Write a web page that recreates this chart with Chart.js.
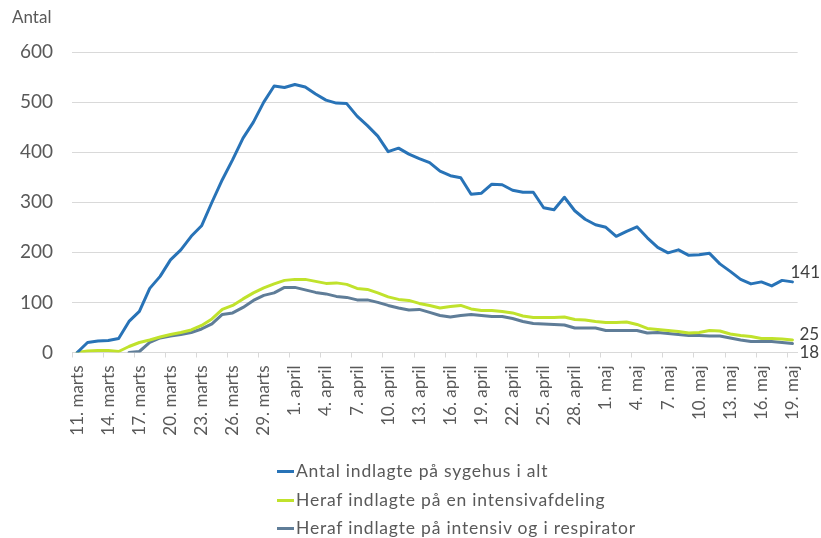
<!DOCTYPE html>
<html>
<head>
<meta charset="utf-8">
<script src="https://cdn.jsdelivr.net/npm/chart.js@4"></script>
<style>
  html, body { margin: 0; padding: 0; background: #fff; }
  #wrap { position: relative; width: 821px; height: 538px; overflow: hidden; }
  #c { position: absolute; left: 0; top: 0; }
  #ytitle { position: absolute; left: 12px; top: 6px; font: 17px Lato, sans-serif; color: #595959; }
  #legend { position: absolute; left: 277px; top: 459px; font: 17.5px Lato, sans-serif; letter-spacing: 0.8px; color: #595959; }
  .li { height: 28.5px; line-height: 24px; white-space: nowrap; }
  .mk { display: inline-block; width: 17px; height: 3px; vertical-align: middle; margin-right: 2px; position: relative; top: -1px; }
</style>
</head>
<body>
<div id="wrap">
  <canvas id="c" width="821" height="538"></canvas>
  <div id="ytitle">Antal</div>
  <div id="legend"></div>
</div>
<script>
const months = ["marts", "april", "maj"];
const monthStarts = [11, 1, 1];
const monthLengths = [21, 30, 19];

const categories = [];
for (let m = 0; m < months.length; m++) {
  for (let d = 0; d < monthLengths[m]; d++) {
    categories.push((monthStarts[m] + d) + ". " + months[m]);
  }
}

const seriesNames = [
  "Antal indlagte på sygehus i alt",
  "Heraf indlagte på en intensivafdeling",
  "Heraf indlagte på intensiv og i respirator"
];

const totalAdmitted = [
  0, 20, 23, 24, 28, 62, 82, 128, 152, 185,
  205, 232, 253, 300, 345, 385, 428, 460, 500, 532,
  529, 535, 530, 516, 504, 498, 497, 472, 453, 432,
  401, 408, 396, 387, 379, 362, 353, 349, 316, 318,
  336, 335, 324, 320, 320, 289, 285, 310, 283, 266,
  255, 250, 232, 242, 251, 229, 210, 199, 205, 194,
  195, 198, 177, 162, 146, 137, 141, 133, 144, 141
];

const intensiveCare = [
  0, 3, 4, 4, 2, 12, 20, 25, 31, 36,
  40, 45, 54, 67, 86, 94, 107, 119, 129, 137,
  144, 146, 146, 142, 138, 139, 136, 128, 126, 119,
  111, 106, 104, 98, 94, 89, 92, 94, 87, 84,
  84, 82, 79, 73, 70, 70, 70, 71, 66, 65,
  62, 60, 60, 61, 56, 48, 46, 44, 42, 39,
  40, 44, 43, 37, 34, 32, 28, 28, 27, 25
];

const respirator = [
  null, null, null, null, null, 0, 2, 20, 29, 33,
  36, 40, 47, 57, 76, 79, 90, 104, 114, 119,
  130, 130, 125, 120, 117, 112, 110, 105, 105, 100,
  94, 89, 85, 86, 80, 74, 71, 74, 76, 74,
  72, 72, 68, 62, 58, 57, 56, 55, 49, 49,
  49, 44, 44, 44, 44, 39, 40, 38, 36, 34,
  34, 33, 33, 29, 25, 22, 22, 22, 20, 18
];

const yTicks = [0, 100, 200, 300, 400, 500, 600];

const colors = ["#2873B7", "#C0E22C", "#5F7D98"];
const labelOffsets = [[-2, -9], [7, -5], [7, 9]];

const legendEl = document.getElementById("legend");
seriesNames.forEach((n, i) => {
  const d = document.createElement("div");
  d.className = "li";
  const mk = document.createElement("span");
  mk.className = "mk";
  mk.style.background = colors[i];
  d.appendChild(mk);
  d.appendChild(document.createTextNode(n));
  legendEl.appendChild(d);
});

const endLabels = {
  id: "endLabels",
  afterDatasetsDraw(chart) {
    const ctx = chart.ctx;
    ctx.save();
    ctx.font = "17px Lato, sans-serif";
    ctx.fillStyle = "#404040";
    ctx.textAlign = "left";
    ctx.textBaseline = "middle";
    chart.data.datasets.forEach((ds, i) => {
      const meta = chart.getDatasetMeta(i);
      const last = ds.data.length - 1;
      const pt = meta.data[last];
      if (!pt) return;
      ctx.fillText(String(ds.data[last]), pt.x + labelOffsets[i][0], pt.y + labelOffsets[i][1]);
    });
    ctx.restore();
  }
};

new Chart(document.getElementById("c"), {
  type: "line",
  data: {
    labels: categories,
    datasets: [
      { label: seriesNames[0], data: totalAdmitted, borderColor: colors[0], backgroundColor: colors[0] },
      { label: seriesNames[1], data: intensiveCare, borderColor: colors[1], backgroundColor: colors[1] },
      { label: seriesNames[2], data: respirator, borderColor: colors[2], backgroundColor: colors[2] }
    ]
  },
  options: {
    responsive: false,
    animation: false,
    devicePixelRatio: 1,
    layout: { padding: { top: 52, right: 21, left: 0, bottom: 0 } },
    elements: {
      line: { borderWidth: 3, tension: 0, borderCapStyle: "round", borderJoinStyle: "round" },
      point: { radius: 0, hoverRadius: 0 }
    },
    plugins: {
      legend: { display: false },
      tooltip: { enabled: false }
    },
    scales: {
      x: {
        type: "category",
        offset: true,
        grid: {
          offset: true,
          drawOnChartArea: false,
          drawTicks: true,
          tickLength: 5,
          tickColor: (c) => (c.index % 3 === 0 ? "#d9d9d9" : "rgba(0,0,0,0)")
        },
        border: { display: true, color: "#d9d9d9", width: 1 },
        ticks: {
          autoSkip: false,
          minRotation: 90,
          maxRotation: 90,
          padding: 8,
          color: "#595959",
          font: { family: "Lato", size: 17 },
          callback: function (v, i) { return i % 3 === 0 ? this.getLabelForValue(v) : ""; }
        },
        afterFit: (s) => { s.height = 538 - 352.5; }
      },
      y: {
        min: 0,
        max: 600,
        afterBuildTicks: (s) => { s.ticks = yTicks.map(v => ({ value: v })); },
        grid: { color: "#d9d9d9", lineWidth: 1, drawTicks: false },
        border: { display: false },
        ticks: {
          padding: 19,
          color: "#595959",
          font: { family: "Lato", size: 19 }
        },
        afterFit: (s) => { s.width = 72; }
      }
    }
  },
  plugins: [endLabels]
});
</script>
</body>
</html>
